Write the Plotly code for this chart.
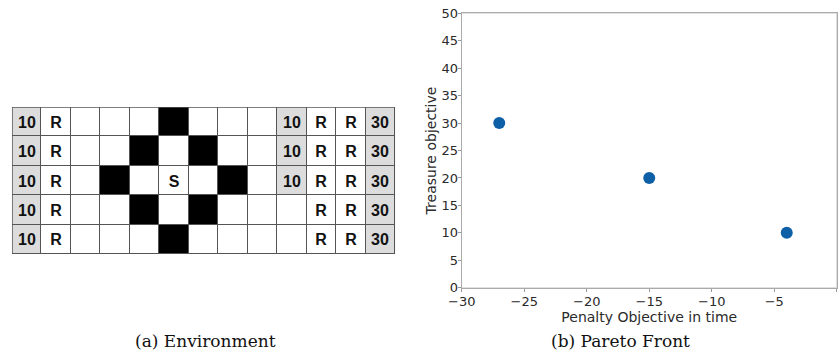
import plotly.graph_objects as go

# ---- grid world (panel a) ----
# cell kind: 0 = empty, 1 = treasure (gray), 2 = wall (black)
grid_kind = [
    [1, 0, 0, 0, 0, 2, 0, 0, 0, 1, 0, 0, 1],
    [1, 0, 0, 0, 2, 0, 2, 0, 0, 1, 0, 0, 1],
    [1, 0, 0, 2, 0, 0, 0, 2, 0, 1, 0, 0, 1],
    [1, 0, 0, 0, 2, 0, 2, 0, 0, 0, 0, 0, 1],
    [1, 0, 0, 0, 0, 2, 0, 0, 0, 0, 0, 0, 1],
]
grid_text = [
    ["10", "R", "", "", "", "", "", "", "", "10", "R", "R", "30"],
    ["10", "R", "", "", "", "", "", "", "", "10", "R", "R", "30"],
    ["10", "R", "", "", "", "S", "", "", "", "10", "R", "R", "30"],
    ["10", "R", "", "", "", "", "", "", "", "", "R", "R", "30"],
    ["10", "R", "", "", "", "", "", "", "", "", "R", "R", "30"],
]

# ---- Pareto front (panel b) ----
penalty = [-27, -15, -4]
treasure = [30, 20, 10]

n_rows = len(grid_kind)
n_cols = len(grid_kind[0])

fig = go.Figure()

fig.add_trace(go.Heatmap(
    z=grid_kind,
    text=grid_text,
    texttemplate="<b>%{text}</b>",
    textfont=dict(family="Liberation Sans", size=16, color="#111111"),
    colorscale=[[0.0, "#ffffff"], [0.3333, "#ffffff"],
                [0.3334, "#dcdcdc"], [0.6666, "#dcdcdc"],
                [0.6667, "#000000"], [1.0, "#000000"]],
    zmin=0, zmax=2,
    showscale=False,
    xgap=1, ygap=1,
    hoverinfo="skip",
    xaxis="x", yaxis="y",
))

fig.add_trace(go.Scatter(
    x=penalty, y=treasure,
    mode="markers",
    marker=dict(size=12, color="#0d5fa6"),
    xaxis="x2", yaxis="y2",
    showlegend=False,
))

# outer border of the grid
fig.add_shape(type="rect", xref="x", yref="y",
              x0=-0.5, x1=n_cols - 0.5, y0=-0.5, y1=n_rows - 0.5,
              line=dict(color="#555555", width=1.5))

tick_font = dict(family="DejaVu Sans", size=13, color="#2a2a2a")
title_font = dict(family="DejaVu Sans", size=14, color="#2a2a2a")

fig.update_layout(
    width=838, height=357,
    margin=dict(l=0, r=0, t=0, b=0),
    paper_bgcolor="white",
    plot_bgcolor="#555555",
    showlegend=False,
    xaxis=dict(domain=[0.0143, 0.4714], range=[-0.5, n_cols - 0.5],
               visible=False, fixedrange=True, automargin=False),
    yaxis=dict(domain=[0.2885, 0.7003], range=[n_rows - 0.5, -0.5],
               visible=False, fixedrange=True, automargin=False),
    xaxis2=dict(domain=[0.551, 0.9985], range=[-30, 0], anchor="y2",
                automargin=False,
                tickmode="array", tickvals=[-30, -25, -20, -15, -10, -5, 0],
                ticktext=["\u221230", "\u221225", "\u221220", "\u221215",
                          "\u221210", "\u22125", "0"],
                ticks="outside", ticklen=3, tickcolor="#999999",
                ticklabelstandoff=-1,
                tickfont=tick_font, showgrid=False, zeroline=False,
                showline=True, linecolor="#aaaaaa", linewidth=1, mirror=True,
                title=dict(text="Penalty Objective in time", font=title_font,
                           standoff=0)),
    yaxis2=dict(domain=[0.1941, 0.9627], range=[0, 50], anchor="x2",
                automargin=False,
                tickmode="array", tickvals=list(range(0, 51, 5)),
                ticks="outside", ticklen=3, tickcolor="#999999",
                ticklabelstandoff=-3,
                tickfont=tick_font, showgrid=False, zeroline=False,
                showline=True, linecolor="#aaaaaa", linewidth=1, mirror=True,
                title=dict(text="Treasure objective", font=title_font,
                           standoff=1)),
    annotations=[
        dict(text="(a) Environment", x=205 / 838, y=1 - 341 / 357,
             xref="paper", yref="paper", showarrow=False,
             xanchor="center", yanchor="middle",
             font=dict(family="DejaVu Serif", size=17, color="#111111")),
        dict(text="(b) Pareto Front", x=620 / 838, y=1 - 341 / 357,
             xref="paper", yref="paper", showarrow=False,
             xanchor="center", yanchor="middle",
             font=dict(family="DejaVu Serif", size=17, color="#111111")),
    ],
)

# the scatter panel needs a white background; draw it under the traces
fig.add_shape(type="rect", xref="x2 domain", yref="y2 domain",
              x0=0, x1=1, y0=0, y1=1, fillcolor="white",
              line=dict(width=0), layer="below")

fig.write_html("out.html")
